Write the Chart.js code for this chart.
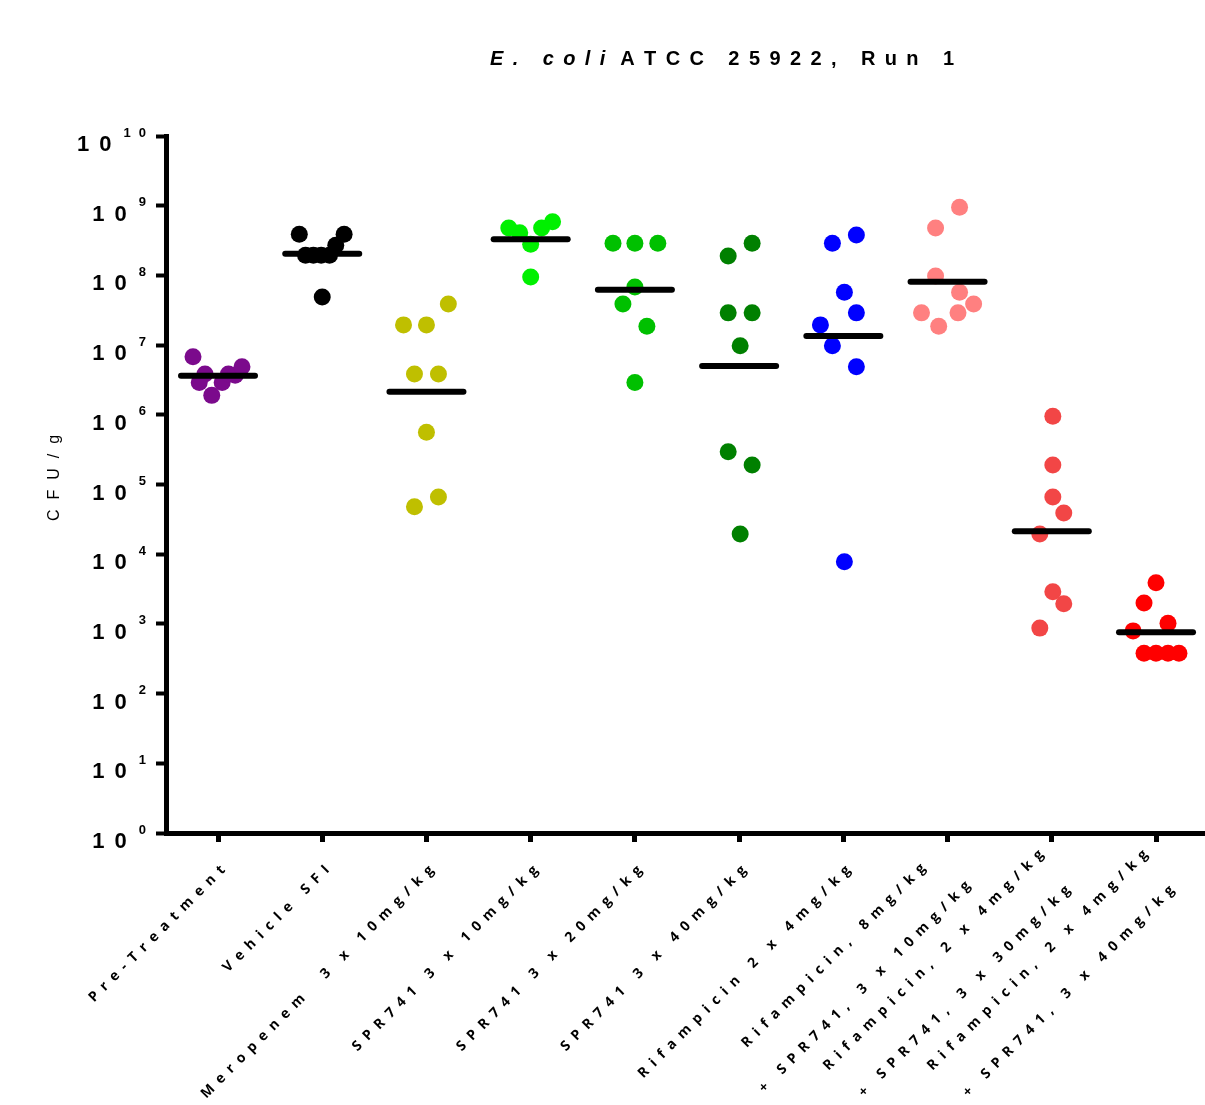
<!DOCTYPE html>
<html><head><meta charset="utf-8">
<script src="https://cdn.jsdelivr.net/npm/chart.js@4.4.1/dist/chart.umd.min.js"></script>
<style>html,body{margin:0;padding:0;background:#fff;} #wrap{width:1205px;height:1105px;}</style>
</head><body>
<div id="wrap"><canvas id="c" width="1205" height="1105"></canvas></div>
<script>
// ---- categories (tick labels, possibly two lines) ----
const categories = [
  ["Pre-Treatment"],
  ["Vehicle SFI"],
  ["Meropenem  3 x 10mg/kg"],
  ["SPR741 3 x 10mg/kg"],
  ["SPR741 3 x 20mg/kg"],
  ["SPR741 3 x 40mg/kg"],
  ["Rifampicin 2 x 4mg/kg"],
  ["Rifampicin, 8mg/kg", "+ SPR741, 3 x 10mg/kg"],
  ["Rifampicin, 2 x 4mg/kg", "+ SPR741, 3 x 30mg/kg"],
  ["Rifampicin, 2 x 4mg/kg", "+ SPR741, 3 x 40mg/kg"]
];
const colors = ["#7B0A8C", "#000000", "#BFBF00", "#00F000", "#00C000", "#008000", "#0000FF", "#FF8080", "#F24646", "#FF0000"];

// ---- CFU/g values per group ----
const preTreatment = [6.8e6, 3.85e6, 2.9e6, 1.9e6, 2.9e6, 3.85e6, 3.7e6, 4.9e6];
const vehicleSFI   = [3.9e8, 1.95e8, 1.95e8, 1.95e8, 1.95e8, 2.7e8, 3.9e8, 4.9e7];
const meropenem    = [3.9e7, 1.95e7, 1.95e7, 3.85e6, 3.85e6, 5.6e5, 6.6e4, 4.8e4];
const spr10        = [4.8e8, 4.1e8, 2.8e8, 4.8e8, 5.9e8, 9.5e7];
const spr20        = [2.9e8, 2.9e8, 2.9e8, 6.8e7, 3.9e7, 1.86e7, 2.9e6];
const spr40        = [2.9e8, 1.9e8, 2.9e7, 2.9e7, 9.8e6, 2.95e5, 1.9e5, 1.95e4];
const rif4         = [3.8e8, 2.9e8, 5.75e7, 2.9e7, 1.95e7, 9.8e6, 4.9e6, 7.8e3];
const rif8spr10    = [9.5e8, 4.8e8, 9.8e7, 5.75e7, 3.9e7, 2.9e7, 2.9e7, 1.86e7];
const rif4spr30    = [9.5e5, 1.9e5, 6.6e4, 3.9e4, 1.95e4, 2.9e3, 1.95e3, 870];
const rif4spr40    = [3.9e3, 2.0e3, 1.02e3, 794, 380, 380, 380, 380];

// ---- horizontal scatter offsets of dots within each column (category units) ----
const preTreatmentX = [-0.24, -0.125, -0.18, -0.06, 0.04, 0.1, 0.165, 0.23];
const vehicleSFIX   = [-0.22, -0.16, -0.085, -0.01, 0.07, 0.13, 0.21, 0.0];
const meropenemX    = [0.21, -0.22, 0.0, -0.115, 0.115, 0.0, 0.115, -0.115];
const spr10X        = [-0.21, -0.105, 0.0, 0.105, 0.21, 0.0];
const spr20X        = [-0.21, 0.0, 0.22, 0.0, -0.115, 0.115, 0.0];
const spr40X        = [0.125, -0.105, -0.105, 0.125, 0.01, -0.105, 0.125, 0.01];
const rif4X         = [0.125, -0.105, 0.01, 0.125, -0.22, -0.105, 0.125, 0.01];
const rif8spr10X    = [0.115, -0.115, -0.115, 0.115, 0.25, -0.25, 0.1, -0.085];
const rif4spr30X    = [0.01, 0.01, 0.01, 0.115, -0.115, 0.01, 0.115, -0.115];
const rif4spr40X    = [0.0, -0.115, 0.115, -0.22, -0.115, 0.0, 0.115, 0.22];

// ---- group medians ----
const medians = [3.63e6, 2.04e8, 2.14e6, 3.3e8, 6.2e7, 5.0e6, 1.35e7, 8.1e7, 2.14e4, 760];

// ---- y axis decades ----
const yTickExponents = [0, 1, 2, 3, 4, 5, 6, 7, 8, 9, 10];

const groupValues = [preTreatment, vehicleSFI, meropenem, spr10, spr20, spr40, rif4, rif8spr10, rif4spr30, rif4spr40];
const groupOffsets = [preTreatmentX, vehicleSFIX, meropenemX, spr10X, spr20X, spr40X, rif4X, rif8spr10X, rif4spr30X, rif4spr40X];

const datasets = [];
medians.forEach((m, i) => {
  datasets.push({
    data: [{x: i - 0.355, y: m}, {x: i + 0.355, y: m}],
    showLine: true, borderColor: '#000', borderWidth: 6, borderCapStyle: 'round',
    pointRadius: 0, order: 0, clip: false
  });
});
groupValues.forEach((vals, i) => {
  datasets.push({
    data: vals.map((v, j) => ({x: i + groupOffsets[i][j], y: v})),
    backgroundColor: colors[i], borderWidth: 0, pointRadius: 8.5, pointHoverRadius: 8.5,
    order: 1, clip: false
  });
});

function drawSpaced(ctx, text, x, y, spacing, align) {
  const chars = Array.from(text);
  const widths = chars.map(c => ctx.measureText(c).width);
  const total = widths.reduce((a, b) => a + b, 0) + spacing * (chars.length - 1);
  let sx = align === 'right' ? x - total : align === 'center' ? x - total / 2 : x;
  ctx.textAlign = 'left';
  chars.forEach((c, k) => { ctx.fillText(c, sx, y); sx += widths[k] + spacing; });
  return total;
}
function spacedWidth(ctx, text, spacing) {
  const chars = Array.from(text);
  return chars.reduce((a, c) => a + ctx.measureText(c).width, 0) + spacing * (chars.length - 1);
}

const textPlugin = {
  id: 'texts',
  afterDraw(chart) {
    const ctx = chart.ctx;
    const xs = chart.scales.x, ys = chart.scales.y;
    ctx.save();
    ctx.fillStyle = '#000';
    ctx.textBaseline = 'middle';

    // Title
    const segs = [
      {t: 'E. coli', f: 'italic bold 20px "Liberation Sans", Arial, sans-serif'},
      {t: ' ATCC 25922, Run 1', f: 'bold 20px "Liberation Sans", Arial, sans-serif'}
    ];
    let tx = 490; const tsp = 9.4;
    segs.forEach((s, k) => {
      ctx.font = s.f;
      const w = drawSpaced(ctx, s.t, tx, 59, tsp, 'left');
      tx += w;
    });

    // Y tick labels: 10 with superscript exponent
    yTickExponents.forEach(e => {
      const py = ys.getPixelForValue(Math.pow(10, e));
      ctx.font = 'bold 13px "Liberation Sans", Arial, sans-serif';
      const expW = drawSpaced(ctx, String(e), 146, py - 3, 8, 'right');
      ctx.font = 'bold 22px "Liberation Sans", Arial, sans-serif';
      drawSpaced(ctx, '10', 146 - expW - 12, py + 9, 10, 'right');
    });

    // Y axis title
    ctx.save();
    ctx.translate(55, 478);
    ctx.rotate(-Math.PI / 2);
    ctx.font = '16px "Liberation Sans", Arial, sans-serif';
    drawSpaced(ctx, 'CFU/g', 0, 0, 10, 'center');
    ctx.restore();

    // X labels rotated -45deg
    const lsp = 7.0, lh = 44;
    categories.forEach((lines, i) => {
      const px = xs.getPixelForValue(i);
      ctx.save();
      ctx.translate(px + 5, 868);
      ctx.rotate(-Math.PI / 4);
      ctx.font = 'bold 14px "Open Sans", "Liberation Sans", sans-serif';
      const maxW = Math.max(...lines.map(l => spacedWidth(ctx, l, lsp)));
      lines.forEach((l, k) => {
        const yy = (k - (lines.length - 1) / 2) * lh;
        drawSpaced(ctx, l, -maxW / 2, yy, lsp, 'center');
      });
      ctx.restore();
    });
    ctx.restore();
  }
};

new Chart(document.getElementById('c'), {
  type: 'scatter',
  data: {datasets},
  options: {
    responsive: false, animation: false, devicePixelRatio: 1,
    layout: {autoPadding: false, padding: {top: 136, left: 0, right: 0, bottom: 0}},
    plugins: {legend: {display: false}, tooltip: {enabled: false}, title: {display: false}},
    scales: {
      x: {
        type: 'linear', min: -0.499, max: 9.47,
        afterBuildTicks: s => { s.ticks = categories.map((_, i) => ({value: i})); },
        afterFit: s => { s.height = 272; },
        ticks: {display: false},
        grid: {display: true, drawOnChartArea: false, drawTicks: true, tickLength: 9, tickWidth: 5, tickColor: '#000'},
        border: {display: true, color: '#000', width: 5}
      },
      y: {
        type: 'logarithmic', min: 1, max: 1e10,
        afterBuildTicks: s => { s.ticks = yTickExponents.map(e => ({value: Math.pow(10, e)})); },
        afterFit: s => { s.width = 166; },
        ticks: {display: false},
        grid: {display: true, drawOnChartArea: false, drawTicks: true, tickLength: 10, tickWidth: 4, tickColor: '#000'},
        border: {display: true, color: '#000', width: 5}
      }
    }
  },
  plugins: [textPlugin]
});
</script>
</body></html>
